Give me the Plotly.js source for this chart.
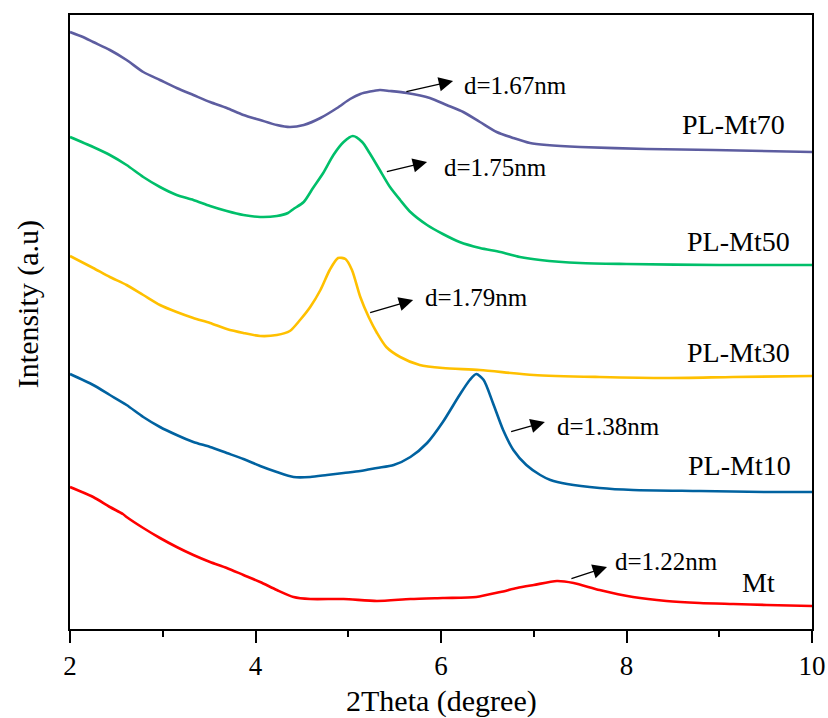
<!DOCTYPE html>
<html>
<head>
<meta charset="utf-8">
<script src="https://cdn.plot.ly/plotly-3.0.1.min.js"></script>
<style>html,body{margin:0;padding:0;background:#fff;}#chart{width:828px;height:718px;}</style>
</head>
<body>
<div id="chart"></div>
<script>
// 2Theta (degree) values and intensities (a.u.)
const xMt70 = [2.00,2.14,2.25,2.43,2.61,2.79,2.97,3.15,3.33,3.51,3.69,3.87,4.05,4.23,4.37,4.52,4.70,4.88,5.02,5.13,5.34,5.45,5.63,5.88,6.06,6.24,6.42,6.60,6.78,6.96,7.14,7.50,8.22,8.94,10.00];
const yMt70 = [597,592,587,579,569,557,549,541,534,527,521,514,509,504,502,504,511,521,530,535,539,538,536,531,524,517,507,497,491,486,484,482,480,479,477];

const xMt50 = [2.00,2.25,2.43,2.61,2.79,2.97,3.15,3.33,3.51,3.69,3.87,4.05,4.23,4.35,4.41,4.52,4.62,4.73,4.84,4.95,5.05,5.15,5.23,5.34,5.45,5.56,5.67,5.85,6.02,6.20,6.42,6.64,6.85,7.07,7.50,8.00,9.00,10.00];
const yMt50 = [492,482,474,464,452,442,434,429,423,418,414,412,413,416,420,427,441,456,474,487,493,487,476,459,442,429,417,404,395,387,381,377,372,369,366,365,364,364];

const xMt30 = [2.00,2.25,2.43,2.61,2.79,2.97,3.15,3.33,3.51,3.69,3.87,4.05,4.23,4.37,4.48,4.59,4.70,4.80,4.89,4.97,5.04,5.13,5.22,5.31,5.41,5.56,5.77,6.02,6.42,7.00,7.71,8.43,9.15,10.00];
const yMt30 = [373,361,352,344,334,324,317,311,306,300,296,293,294,298,309,322,339,359,371,370,359,332,312,296,282,272,264,261,259,254,252,251,252,253];

const xMt10 = [2.00,2.25,2.43,2.61,2.79,2.97,3.15,3.33,3.51,3.69,3.87,4.05,4.23,4.41,4.59,4.77,4.95,5.13,5.31,5.49,5.67,5.85,6.02,6.20,6.31,6.38,6.46,6.56,6.67,6.78,6.92,7.07,7.18,7.36,7.71,8.07,8.79,9.51,10.00];
const yMt10 = [255,244,234,224,212,202,194,187,182,176,170,163,157,152,152,154,156,158,161,164,172,186,207,234,249,255,249,226,199,179,164,154,149,145,141,139,138,137,137];

const xMt = [2.00,2.25,2.43,2.57,2.61,2.79,2.97,3.15,3.33,3.51,3.69,3.87,4.05,4.23,4.41,4.59,4.95,5.31,5.67,6.02,6.38,6.64,6.82,7.00,7.25,7.43,7.71,8.07,8.43,8.79,9.15,9.51,10.00];
const yMt = [142,132,122,115,112,101,91,82,74,67,61,54,47,39,32,30,30,28,30,31,32,37,41,44,48,46,39,32,28,26,25,24,23];

const seriesNames = ["PL-Mt70","PL-Mt50","PL-Mt30","PL-Mt10","Mt"];
const dLabels = ["d=1.67nm","d=1.75nm","d=1.79nm","d=1.38nm","d=1.22nm"];
const xTicks = [2,4,6,8,10];

const colors = ["#5D5DA0","#00BF6A","#FFC000","#0062A0","#FF0000"];
const xs = [xMt70,xMt50,xMt30,xMt10,xMt];
const ys = [yMt70,yMt50,yMt30,yMt10,yMt];

const traces = xs.map((x,i)=>({
  x:x, y:ys[i], type:'scatter', mode:'lines', name:seriesNames[i],
  line:{color:colors[i], width:2.6, shape:'spline', smoothing:0.7}, showlegend:false, hoverinfo:'skip'
}));

const serif = "Liberation Serif";

// arrow placements: [tailX, tailY, headX, headY]
const arrows = [
  [5.61,537,6.13,548],
  [5.40,457,5.85,467],
  [5.22,316,5.70,329],
  [6.74,197,7.12,207],
  [7.39,50,7.79,62]
];
const dPos = [[6.23,543.5],[6.01,461.5],[5.81,331.5],[7.23,203],[7.85,68]];
const namePos = [[9.73,505],[9.78,388],[9.78,277],[9.80,164],[9.62,47]];

const annotations = [];
arrows.forEach(a=>{
  annotations.push({x:a[2], y:a[3], ax:a[0], ay:a[1], xref:'x', yref:'y', axref:'x', ayref:'y',
    text:'', showarrow:true, arrowhead:2, arrowsize:2.2, arrowwidth:1.3, arrowcolor:'#000', standoff:0, startstandoff:0});
});
dLabels.forEach((t,i)=>{
  annotations.push({x:dPos[i][0], y:dPos[i][1], xref:'x', yref:'y', text:t, showarrow:false,
    xanchor:'left', yanchor:'middle', font:{family:serif, size:25, color:'#000'}});
});
seriesNames.forEach((t,i)=>{
  annotations.push({x:namePos[i][0], y:namePos[i][1], xref:'x', yref:'y', text:t, showarrow:false,
    xanchor:'right', yanchor:'middle', font:{family:serif, size:28, color:'#000'}});
});
annotations.push({x:0.5, y:-0.117, xref:'paper', yref:'paper', text:'2Theta (degree)', showarrow:false,
  xanchor:'center', yanchor:'middle', font:{family:serif, size:30, color:'#000'}});
annotations.push({x:-0.0566, y:0.529, xref:'paper', yref:'paper', text:'Intensity (a.u)', showarrow:false,
  textangle:-90, xanchor:'center', yanchor:'middle', font:{family:serif, size:30, color:'#000'}});

const layout = {
  width:828, height:718,
  margin:{l:70, r:16, t:15, b:89},
  paper_bgcolor:'#ffffff', plot_bgcolor:'#ffffff',
  font:{family:serif},
  xaxis:{range:[2,10], tickvals:xTicks, ticktext:xTicks.map(String), ticks:'outside', ticklen:12, tickwidth:2, tickcolor:'#000',
    showline:true, linewidth:2, linecolor:'#000', mirror:true, showgrid:false, zeroline:false,
    tickfont:{family:serif, size:27, color:'#000'},
    minor:{ticks:'outside', ticklen:6, tickwidth:2, tickcolor:'#000', dtick:1, showgrid:false}},
  yaxis:{range:[0,614], showticklabels:false, ticks:'', showline:true, linewidth:2, linecolor:'#000', mirror:true,
    showgrid:false, zeroline:false},
  annotations:annotations
};

Plotly.newPlot('chart', traces, layout, {staticPlot:true, displayModeBar:false});
</script>
</body>
</html>
